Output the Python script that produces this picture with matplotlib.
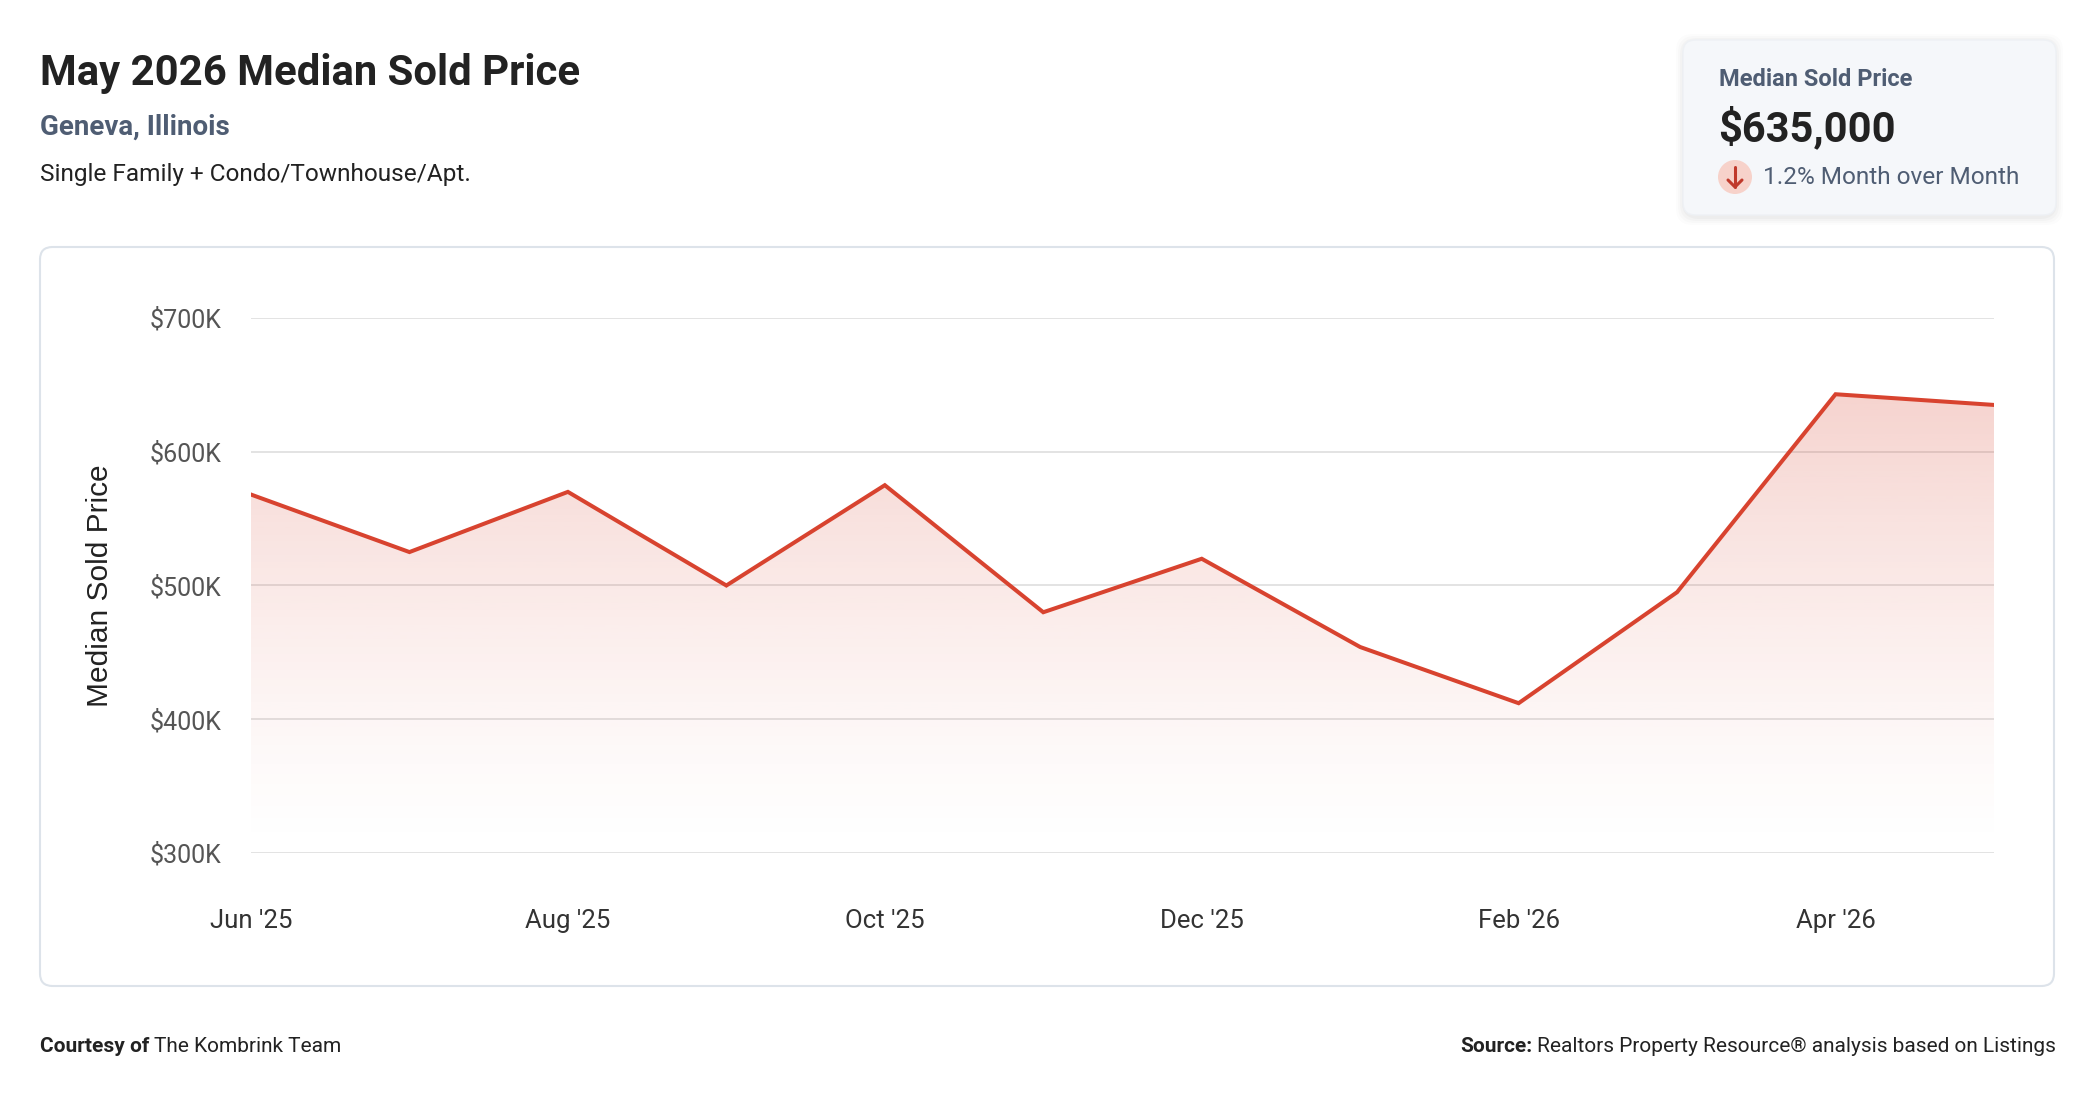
import matplotlib
matplotlib.use("Agg")
import matplotlib.pyplot as plt
import numpy as np
from matplotlib.patches import FancyBboxPatch, Circle, Polygon
from matplotlib.lines import Line2D

# ---------------- data ----------------
months = ["Jun '25", "Jul '25", "Aug '25", "Sep '25", "Oct '25", "Nov '25",
          "Dec '25", "Jan '26", "Feb '26", "Mar '26", "Apr '26", "May '26"]
prices = [568000, 525000, 570000, 500000, 575000, 480000,
          520000, 454000, 412000, 495000, 643000, 635000]
yticks = [300000, 400000, 500000, 600000, 700000]
ytick_labels = ["$300K", "$400K", "$500K", "$600K", "$700K"]
xtick_idx = [0, 2, 4, 6, 8, 10]

title = "May 2026 Median Sold Price"
location = "Geneva, Illinois"
ptype = "Single Family + Condo/Townhouse/Apt."
card_label = "Median Sold Price"
card_value = "$635,000"
card_change = "1.2% Month over Month"

W, H = 2096, 1100
plt.rcParams['font.family'] = ['Roboto', 'DejaVu Sans']
fig = plt.figure(figsize=(W / 100, H / 100), dpi=100)
fig.patch.set_facecolor("white")

def fx(x):
    return x / W
def fy(y):
    return 1 - y / H

DARK = "#222222"
SLATE = "#4f5d73"
RED = "#d8432f"

# ---------------- header ----------------
fig.text(fx(40), fy(74), title, fontsize=30.2, fontweight="bold", color=DARK, va="center", ha="left")
fig.text(fx(40), fy(127), location, fontsize=20, fontweight="bold", color=SLATE, va="center", ha="left")
fig.text(fx(40), fy(175), ptype, fontsize=17.6, color=DARK, va="center", ha="left")

# ---------------- card ----------------
cx0, cy0, cx1, cy1 = 1683, 40, 2056, 215
for i, a in enumerate([0.025, 0.02, 0.015, 0.01]):
    d = 2 + i * 2
    sh = FancyBboxPatch((fx(cx0 - d + 1), fy(cy1 + d + 2)), fx(cx1 - cx0 + 2 * d - 2), (cy1 - cy0 + 2 * d) / H,
                        boxstyle="round,pad=0,rounding_size=0.008", transform=fig.transFigure,
                        facecolor="black", edgecolor="none", alpha=a, mutation_aspect=W / H, zorder=-6)
    fig.add_artist(sh)
card = FancyBboxPatch((fx(cx0), fy(cy1)), fx(cx1 - cx0), (cy1 - cy0) / H,
                      boxstyle="round,pad=0,rounding_size=0.006", transform=fig.transFigure,
                      facecolor="#f5f7fa", edgecolor="#eef1f5", linewidth=1, mutation_aspect=W / H, zorder=-5)
fig.add_artist(card)
fig.text(fx(1719), fy(80), card_label, fontsize=17, fontweight="bold", color=SLATE, va="center", ha="left")
fig.text(fx(1718), fy(128), card_value, fontsize=30, fontweight="bold", color=DARK, va="center", ha="left")
# down-arrow badge
ccx, ccy, r = 1735, 177, 17
badge = Circle((ccx, H - ccy), r, transform=None, facecolor="#f7d2ca", edgecolor="none")
fig.add_artist(badge)
fig.add_artist(Line2D([fx(ccx), fx(ccx)], [fy(ccy - 10), fy(ccy + 10)], transform=fig.transFigure,
                      color="#c0392b", linewidth=2.2, solid_capstyle="round"))
fig.add_artist(Line2D([fx(ccx - 7), fx(ccx), fx(ccx + 7)], [fy(ccy + 3), fy(ccy + 10), fy(ccy + 3)],
                      transform=fig.transFigure, color="#c0392b", linewidth=2.2,
                      solid_capstyle="round", solid_joinstyle="round"))
fig.text(fx(1763), fy(178), card_change, fontsize=17.6, color=SLATE, va="center", ha="left")

# ---------------- chart panel ----------------
px0, py0, px1, py1 = 40, 247, 2054, 986
panel = FancyBboxPatch((fx(px0), fy(py1)), fx(px1 - px0), (py1 - py0) / H,
                       boxstyle="round,pad=0,rounding_size=0.006", transform=fig.transFigure,
                       facecolor="white", edgecolor="#dde3ea", linewidth=1.5, mutation_aspect=W / H,
                       zorder=-5)
fig.add_artist(panel)

ax_l, ax_r, ax_t, ax_b = 251, 1994, 318, 853
ax = fig.add_axes([fx(ax_l), fy(ax_b), (ax_r - ax_l) / W, (ax_b - ax_t) / H])
ax.set_zorder(2)
ax.set_facecolor("none")
x = np.arange(len(prices))
ax.set_xlim(0, len(prices) - 1)
ax.set_ylim(yticks[0], yticks[-1])

# gradient fill clipped to area under line
ymax_g = 650000
grad = np.linspace(0, 1, 256).reshape(-1, 1)
rgba = np.zeros((256, 1, 4))
base = matplotlib.colors.to_rgb(RED)
rgba[..., 0] = base[0]
rgba[..., 1] = base[1]
rgba[..., 2] = base[2]
rgba[..., 3] = (0.24 * grad ** 1.3)
im = ax.imshow(rgba, extent=[0, len(prices) - 1, yticks[0], ymax_g], origin="lower",
               aspect="auto", zorder=1, interpolation="bilinear")
verts = [(0, yticks[0])] + list(zip(x, prices)) + [(len(prices) - 1, yticks[0])]
poly = Polygon(verts, closed=True, facecolor="none", edgecolor="none", transform=ax.transData)
ax.add_patch(poly)
im.set_clip_path(poly)

ax.plot(x, prices, color=RED, linewidth=2.9, zorder=3, solid_joinstyle="miter")

ax.set_yticks(yticks)
ax.set_yticklabels(ytick_labels)
ax.set_xticks(xtick_idx)
ax.set_xticklabels([months[i] for i in xtick_idx])
ax.grid(axis="y", color="#e3e3e3", linewidth=1.4, zorder=0)
ax.set_axisbelow(True)
for s in ax.spines.values():
    s.set_visible(False)
ax.tick_params(axis="y", length=0, pad=21, labelsize=18, labelcolor="#555555")
ax.tick_params(axis="x", length=0, pad=40, labelsize=18.5, labelcolor="#333333")
ax.set_ylabel("Median Sold Price", fontsize=21.5, color="#222222",
              family=["Liberation Sans", "DejaVu Sans"], va="center")
ax.yaxis.set_label_coords((100 - ax_l) / (ax_r - ax_l), 0.5)

# ---------------- footer ----------------
fig.canvas.draw()
rend = fig.canvas.get_renderer()
fy_foot = fy(1046)
t1 = fig.text(fx(40), fy_foot, "Courtesy of", fontsize=15, fontweight="bold", color=DARK, va="center", ha="left")
bb = t1.get_window_extent(renderer=rend)
fig.text(bb.x1 / W + 5 / W, fy_foot, "The Kombrink Team", fontsize=15, color=DARK, va="center", ha="left")

t2 = fig.text(fx(2056), fy_foot, "Realtors Property Resource\u00ae analysis based on Listings", fontsize=15,
              color=DARK, va="center", ha="right")
bb2 = t2.get_window_extent(renderer=rend)
fig.text(bb2.x0 / W - 5 / W, fy_foot, "Source:", fontsize=15, fontweight="bold", color=DARK,
         va="center", ha="right")

fig.savefig("out.png", dpi=100, facecolor="white")
